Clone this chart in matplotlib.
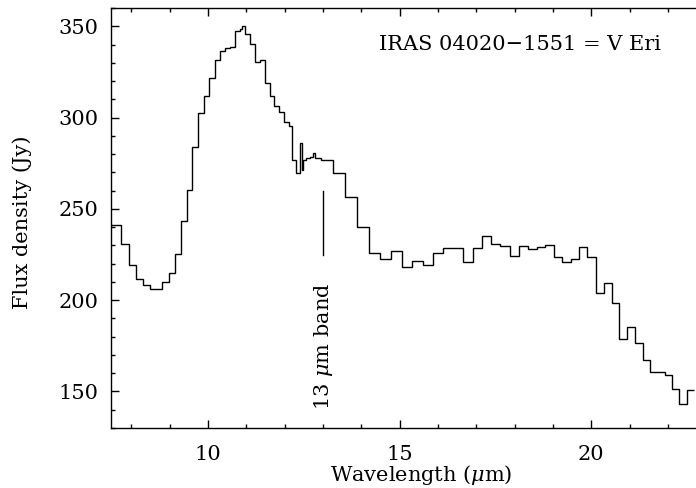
import matplotlib
matplotlib.use("Agg")
import matplotlib.pyplot as plt
from matplotlib.ticker import MultipleLocator

# IRAS LRS spectrum of V Eri: bin edges (micron) and flux per bin (Jy)
wave_edges = [7.460, 7.739, 7.937, 8.120, 8.303, 8.478, 8.804, 8.979, 9.149,
              9.300, 9.452, 9.593, 9.744, 9.901, 10.039, 10.180, 10.311,
              10.449, 10.567, 10.715, 10.836, 10.880, 10.977, 11.107, 11.232,
              11.358, 11.486, 11.606, 11.728, 11.851, 11.977, 12.107, 12.204,
              12.298, 12.394, 12.446, 12.480, 12.569, 12.674, 12.742, 12.794,
              12.935, 13.248, 13.561, 13.883, 14.191, 14.483, 14.770, 15.050,
              15.332, 15.614, 15.875, 16.141, 16.650, 16.903, 17.154, 17.389,
              17.629, 17.877, 18.117, 18.347, 18.582, 18.799, 19.021, 19.243,
              19.470, 19.684, 19.893, 20.110, 20.319, 20.527, 20.731, 20.937,
              21.133, 21.337, 21.533, 21.723, 21.916, 22.115, 22.298, 22.491,
              22.681]
flux = [241.2, 230.7, 219.1, 211.8, 208.1, 206.0, 210.0, 215.1, 225.4,
        243.3, 260.2, 283.7, 302.5, 311.7, 321.8, 331.6, 336.5, 338.0,
        338.7, 347.2, 348.5, 350.3, 345.6, 340.4, 330.7, 331.4, 318.7,
        312.0, 306.5, 303.2, 297.8, 295.4, 276.9, 269.4, 286.3, 271.5,
        276.6, 277.7, 278.4, 280.6, 277.9, 277.0, 269.7, 256.4, 239.8,
        225.7, 222.4, 226.9, 218.3, 221.7, 219.4, 226.0, 228.6, 221.0,
        228.6, 234.9, 230.6, 229.9, 224.1, 229.8, 227.8, 228.9, 230.4,
        223.9, 221.1, 222.5, 229.3, 223.7, 204.1, 209.3, 198.3, 179.0,
        185.5, 176.4, 167.0, 160.5, 160.7, 158.8, 151.3, 143.1, 150.6]

title = "IRAS 04020\u22121551 = V Eri"
band_wave = 13.0
band_line = (224.7, 259.7)

plt.rcParams["font.family"] = "DejaVu Serif"
plt.rcParams["mathtext.fontset"] = "dejavuserif"
FS = 15

W, H = 696, 488
fig = plt.figure(figsize=(W / 100, H / 100), dpi=100)
ax = fig.add_axes([111 / W, 1 - 428 / H, 1 - 111 / W, 420 / H])

ax.stairs(flux, wave_edges, baseline=None, color="black", linewidth=1.0)

# 13 micron band marker
ax.plot([band_wave, band_wave], band_line, color="black", linewidth=1.0)
ax.text(band_wave + 0.02, 140, "13 $\\mu$m band", rotation=90, ha="center",
        va="bottom", fontsize=FS)

ax.text((520 - 111) / 585, 0.912, title, transform=ax.transAxes,
        ha="center", va="center", fontsize=FS)

ax.set_xlim(7.47, 22.73)
ax.set_ylim(130, 360)
ax.xaxis.set_major_locator(MultipleLocator(5))
ax.xaxis.set_minor_locator(MultipleLocator(1))
ax.yaxis.set_major_locator(MultipleLocator(50))
ax.yaxis.set_minor_locator(MultipleLocator(10))
ax.tick_params(which="both", direction="in", top=True, right=False,
               labelsize=FS, width=1.0)
ax.tick_params(which="major", length=6)
ax.tick_params(which="minor", length=3)
ax.tick_params(axis="x", pad=12.5)
ax.tick_params(axis="y", pad=9)
ax.spines["right"].set_visible(False)
for s in ("left", "bottom", "top"):
    ax.spines[s].set_linewidth(1.0)

fig.text(421 / W, 1 - 475 / H, "Wavelength ($\\mu$m)", ha="center",
         va="center", fontsize=FS)
fig.text(22 / W, 1 - 222 / H, "Flux density (Jy)", rotation=90,
         ha="center", va="center", fontsize=FS)

fig.savefig("out.png", dpi=100)
